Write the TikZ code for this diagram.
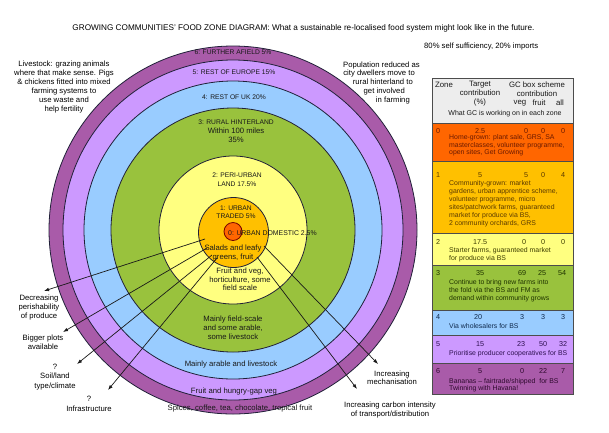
\documentclass[tikz,border=0pt]{standalone}
\usepackage{fontspec}
\setmainfont{Liberation Sans}
\usetikzlibrary{arrows.meta,calc}
\definecolor{zsix}{HTML}{A95BA9}
\definecolor{zfive}{HTML}{CC99FF}
\definecolor{zfour}{HTML}{99CCFF}
\definecolor{zthree}{HTML}{99C23D}
\definecolor{ztwo}{HTML}{FFFF80}
\definecolor{zonec}{HTML}{FFC000}
\definecolor{zzero}{HTML}{FF6600}
\definecolor{hdrc}{HTML}{EDEDED}
\definecolor{ringline}{HTML}{202038}
\definecolor{tzero}{HTML}{6B1A00}
\definecolor{tone}{HTML}{5A3A00}
\definecolor{ttwo}{HTML}{3D3D00}
\definecolor{tthree}{HTML}{1F3300}
\definecolor{tfour}{HTML}{102A4D}
\definecolor{tfive}{HTML}{2E1050}
\definecolor{tsix}{HTML}{2E0A2E}
\newcommand\zuc{\fontsize{6.7}{9}\selectfont}
\newcommand\zlc{\fontsize{7.7}{9}\selectfont}
\begin{document}
\begin{tikzpicture}[x=1pt,y=-1pt,
  zonering/.style={circle,draw=ringline,line width=0.8pt,inner sep=0pt},
  lab/.style={font=\zlc,text=black!90,inner sep=0pt,align=center},
  note/.style={font=\zlc,text=black,inner sep=0pt,align=center},
  conn/.style={draw=black!90,line width=0.7pt,-{Latex[length=5pt,width=3.6pt]}},
  num/.style={font=\fontsize{7.2}{8}\selectfont,inner sep=0pt},
  desc/.style={font=\fontsize{6.9}{7.7}\selectfont,inner sep=0pt,align=left,anchor=west},
  hdr/.style={font=\fontsize{7.8}{9}\selectfont,text=black!90,inner sep=0pt,align=center},
  tabline/.style={draw=black!70,line width=1pt}]
\useasboundingbox (0,0) rectangle (609,432);
\fill[white] (0,0) rectangle (609,432);

% title
\node[font=\fontsize{8.2}{10}\selectfont,inner sep=0pt] (title) at (303.5,28) {GROWING COMMUNITIES' FOOD ZONE DIAGRAM: What a sustainable re-localised food system might look like in the future.};
\node[font=\zlc,inner sep=0pt,anchor=west] (ratio) at (424,47) {80\% self sufficiency, 20\% imports};

% rings
\node[zonering,fill=zsix,minimum size=368pt] (z6) at (233,230) {};
\node[zonering,fill=zfive,minimum size=340pt] (z5) at (233,230) {};
\node[zonering,fill=zfour,minimum size=298pt] (z4) at (233,230) {};
\node[zonering,fill=zthree,minimum size=244pt] (z3) at (233,230) {};
\node[zonering,fill=ztwo,minimum size=148pt] (z2) at (233,230) {};
\node[zonering,fill=zonec,minimum size=70pt] (z1) at (233.5,232.5) {};
\node[zonering,draw=red!45!black,fill=zzero,minimum size=18pt] (z0) at (233,231.5) {};

% ring labels
\node[lab,font=\zuc] (l6) at (233,52) {6: FURTHER AFIELD 5\%};
\node[lab,font=\zuc] (l5) at (234,72) {5: REST OF EUROPE 15\%};
\node[lab,font=\zuc] (l4) at (234,97) {4: REST OF UK 20\%};
\node[lab] (l3) at (236,131.5) {{\zuc 3: RURAL HINTERLAND}\\Within 100 miles\\35\%};
\node[lab,font=\zuc] (l2) at (237,179.5) {2: PERI-URBAN\\LAND 17.5\%};
\node[lab,font=\fontsize{6.7}{8}\selectfont] (l1) at (236,212) {1: URBAN\\TRADED 5\%};
\node[lab,font=\fontsize{6.9}{8}\selectfont,anchor=west] (l0) at (228,233) {0: URBAN DOMESTIC 2.5\%};
\node[lab] (salads) at (233,252.5) {Salads and leafy\\greens, fruit};
\node[lab,font=\fontsize{7.7}{8.5}\selectfont] (hort) at (240,279.5) {Fruit and veg,\\horticulture, some\\field scale};
\node[lab] (field) at (233,328) {Mainly field-scale\\and some arable,\\some livestock};
\node[lab] (arable) at (231,364) {Mainly arable and livestock};
\node[lab] (hungry) at (234,391) {Fruit and hungry-gap veg};
\node[lab] (spices) at (240,408) {Spices, coffee, tea, chocolate, tropical fruit};

% side notes
\node[note,font=\fontsize{7.7}{8.9}\selectfont] (livestock) at (64,87.2) {Livestock: grazing animals\\where that make sense. Pigs\\\& chickens fitted into mixed\\farming systems to\\use waste and\\help fertility};
\node[note,font=\fontsize{7.7}{8.9}\selectfont,align=right,anchor=east] (population) at (420,82.9) {Population reduced as\\city dwellers move to\rule{5pt}{0pt}\\rural hinterland to\rule{7pt}{0pt}\\get involved\rule{15pt}{0pt}\\in farming\rule{10pt}{0pt}};
\node[note] (perish) at (39,307) {Decreasing\\perishability\\of produce};
\node[note] (plots) at (43,342) {Bigger plots\\available};
\node[note,font=\fontsize{7.7}{9.5}\selectfont] (soil) at (55,376.7) {?\\Soil/land\\type/climate};
\node[note,font=\fontsize{7.7}{10}\selectfont] (infra) at (89,404) {?\\Infrastructure};
\node[note,font=\fontsize{7.7}{8.5}\selectfont] (mech) at (392,377.5) {Increasing\\mechanisation};
\node[note] (carbon) at (390,409.5) {Increasing carbon intensity\\of transport/distribution};

% connectors
\coordinate (s1) at (205,239); \coordinate (t1) at (44,291);
\coordinate (s2) at (207,248); \coordinate (t2) at (63,332);
\coordinate (s3) at (212,255); \coordinate (t3) at (77,364);
\coordinate (s4) at (217,258); \coordinate (t4) at (108,390);
\coordinate (s5) at (264,246); \coordinate (t5) at (378,364);
\coordinate (s6) at (257,257); \coordinate (t6) at (357,389);
\draw[conn] (s1) -- (t1);
\draw[conn] (s2) -- (t2);
\draw[conn] (s3) -- (t3);
\draw[conn] (s4) -- (t4);
\draw[conn] (s5) -- (t5);
\draw[conn] (s6) -- (t6);

% table
\fill[hdrc] (432,78) rectangle (573,123);
\fill[zzero] (432,123) rectangle (573,161);
\fill[zonec] (432,161) rectangle (573,233);
\fill[ztwo] (432,233) rectangle (573,265);
\fill[zthree] (432,265) rectangle (573,310);
\fill[zfour] (432,310) rectangle (573,335);
\fill[zfive] (432,335) rectangle (573,363);
\fill[zsix] (432,363) rectangle (573,394);
\foreach \yy in {123,161,233,265,310,335,363} {\draw[tabline] (432,\yy) -- (573,\yy);}
\draw[tabline] (432,78) rectangle (573,394);

\node[hdr] (hzone) at (444,85) {Zone};
\node[hdr] (htarget) at (480,94) {Target\\contribution\\(\%)};
\node[hdr] (hgc) at (537,89.5) {GC box scheme\\contribution};
\node[hdr] (hveg) at (520,103) {veg};
\node[hdr] (hfruit) at (539,103) {fruit};
\node[hdr] (hall) at (560,103) {all};
\node[hdr,font=\fontsize{7}{8}\selectfont] (hwhat) at (505,114) {What GC is working on in each zone};

% row 0
\begin{scope}[every node/.append style={text=tzero}]
\node[num] (n0) at (438,131) {0};
\node[num] (n0t) at (480,131) {2.5};
\node[num] (n0v) at (526,131) {0};
\node[num] (n0f) at (543,131) {0};
\node[num] (n0a) at (563,131) {0};
\node[desc] (d0) at (449,145.5) {Home-grown: plant sale, GRS, SA\\masterclasses, volunteer programme,\\open sites, Get Growing};
\end{scope}
% row 1
\begin{scope}[every node/.append style={text=tone}]
\node[num] (n1) at (438,175) {1};
\node[num] (n1t) at (480,175) {5};
\node[num] (n1v) at (526,175) {5};
\node[num] (n1f) at (543,175) {0};
\node[num] (n1a) at (563,175) {4};
\node[desc,font=\fontsize{6.9}{8}\selectfont] (d1) at (449,204) {Community-grown: market\\gardens, urban apprentice scheme,\\volunteer programme, micro\\sites/patchwork farms, guaranteed\\market for produce via BS,\\2 community orchards, GRS};
\end{scope}
% row 2
\begin{scope}[every node/.append style={text=ttwo}]
\node[num] (n2) at (438,242) {2};
\node[num] (n2t) at (480,242) {17.5};
\node[num] (n2v) at (524,242) {0};
\node[num] (n2f) at (543,242) {0};
\node[num] (n2a) at (563,242) {0};
\node[desc] (d2) at (449,254.5) {Starter farms, guaranteed market\\for produce via BS};
\end{scope}
% row 3
\begin{scope}[every node/.append style={text=tthree}]
\node[num] (n3) at (438,272.7) {3};
\node[num] (n3t) at (480,272.7) {35};
\node[num] (n3v) at (522,272.7) {69};
\node[num] (n3f) at (542,272.7) {25};
\node[num] (n3a) at (562,272.7) {54};
\node[desc,font=\fontsize{6.9}{8.2}\selectfont] (d3) at (449,291) {Continue to bring new farms into\\the fold via the BS and FM as\\demand within community grows};
\end{scope}
% row 4
\begin{scope}[every node/.append style={text=tfour}]
\node[num] (n4) at (438,317.3) {4};
\node[num] (n4t) at (478,317.3) {20};
\node[num] (n4v) at (522,317.3) {3};
\node[num] (n4f) at (543,317.3) {3};
\node[num] (n4a) at (563,317.3) {3};
\node[desc] (d4) at (449,325.7) {Via wholesalers for BS};
\end{scope}
% row 5
\begin{scope}[every node/.append style={text=tfive}]
\node[num] (n5) at (438,344.3) {5};
\node[num] (n5t) at (480,344.3) {15};
\node[num] (n5v) at (521,344.3) {23};
\node[num] (n5f) at (543,344.3) {50};
\node[num] (n5a) at (563,344.3) {32};
\node[desc] (d5) at (449,353.3) {Prioritise producer cooperatives for BS};
\end{scope}
% row 6
\begin{scope}[every node/.append style={text=tsix}]
\node[num] (n6) at (438,371) {6};
\node[num] (n6t) at (480,371) {5};
\node[num] (n6v) at (522,371) {0};
\node[num] (n6f) at (543,371) {22};
\node[num] (n6a) at (563,371) {7};
\node[desc,font=\fontsize{6.9}{7.3}\selectfont] (d6) at (449,385.3) {Bananas -- fairtrade/shipped\ \ for BS\\Twinning with Havana!};
\end{scope}
\end{tikzpicture}
\end{document}
